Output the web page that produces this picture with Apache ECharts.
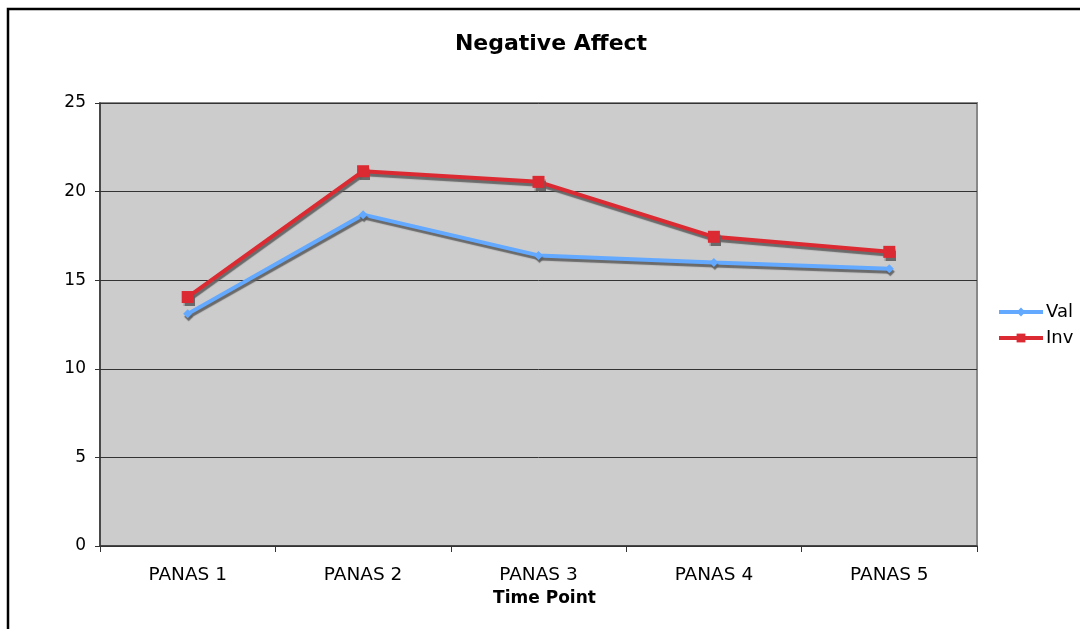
<!DOCTYPE html>
<html>
<head>
<meta charset="utf-8">
<script src="https://cdn.jsdelivr.net/npm/echarts@6/dist/echarts.min.js"></script>
<style>
html,body{margin:0;padding:0;background:#fff;}
#chart{width:1080px;height:629px;}
</style>
</head>
<body>
<div id="chart"></div>
<script>
const categories = ['PANAS 1', 'PANAS 2', 'PANAS 3', 'PANAS 4', 'PANAS 5'];
const valSeries = [13.1, 18.7, 16.4, 16.0, 15.65];
const invSeries = [14.05, 21.15, 20.55, 17.45, 16.6];
const seriesNames = ['Val', 'Inv'];
const yTicks = { min: 0, max: 25, interval: 5 };

const FONT = '"DejaVu Sans", Verdana, sans-serif';
const chart = echarts.init(document.getElementById('chart'), null, { renderer: 'canvas' });

const shadow = {
  shadowColor: 'rgba(95,95,95,0.9)',
  shadowBlur: 1,
  shadowOffsetX: 1,
  shadowOffsetY: 3
};

chart.setOption({
  animation: false,
  backgroundColor: '#ffffff',
  title: {
    text: 'Negative Affect',
    left: 546,
    textAlign: 'center',
    top: 28,
    textStyle: { fontFamily: FONT, fontWeight: 'bold', fontSize: 22, color: '#000' }
  },
  graphic: [{
    type: 'rect',
    shape: { x: 8, y: 9, width: 1090, height: 650 },
    style: { fill: 'none', stroke: '#000', lineWidth: 2.5 },
    silent: true
  }],
  legend: {
    orient: 'vertical',
    left: 992,
    top: 298,
    itemWidth: 44,
    itemHeight: 11,
    itemGap: 8,
    data: seriesNames,
    lineStyle: { width: 4 },
    textStyle: { fontFamily: FONT, fontSize: 18, color: '#000', padding: [0, 0, 0, -2] }
  },
  grid: {
    left: 100, right: 103, top: 103, bottom: 83,
    show: true,
    backgroundColor: '#cccccc',
    borderColor: '#888888',
    borderWidth: 2
  },
  xAxis: {
    type: 'category',
    data: categories,
    boundaryGap: true,
    name: 'Time Point',
    nameLocation: 'middle',
    nameGap: 42,
    nameTextStyle: { fontFamily: FONT, fontWeight: 'bold', fontSize: 17, color: '#000', padding: [0, 0, 0, 12] },
    axisLine: { show: true, lineStyle: { color: '#333', width: 1.5 } },
    axisTick: { show: true, length: 6, lineStyle: { color: '#333' } },
    axisLabel: { fontFamily: FONT, fontSize: 18.5, color: '#000', margin: 20 },
    splitLine: { show: false }
  },
  yAxis: {
    type: 'value',
    min: yTicks.min,
    max: yTicks.max,
    interval: yTicks.interval,
    axisLine: { show: true, lineStyle: { color: '#333', width: 1.5 } },
    axisTick: { show: true, length: 5, lineStyle: { color: '#333' } },
    axisLabel: { fontFamily: FONT, fontSize: 17, color: '#000', margin: 14 },
    splitLine: { show: true, lineStyle: { color: '#333', width: 1 } }
  },
  series: [
    {
      name: seriesNames[0],
      type: 'line',
      data: valSeries,
      symbol: 'diamond',
      symbolSize: 9,
      color: '#62a9ff',
      lineStyle: Object.assign({ width: 4, color: '#62a9ff' }, shadow),
      itemStyle: Object.assign({ color: '#62a9ff' }, shadow),
      z: 3
    },
    {
      name: seriesNames[1],
      type: 'line',
      data: invSeries,
      symbol: 'rect',
      symbolSize: 12,
      color: '#dc2a32',
      lineStyle: Object.assign({ width: 4, color: '#dc2a32' }, shadow),
      itemStyle: Object.assign({ color: '#dc2a32' }, shadow),
      z: 3
    }
  ]
});
</script>
</body>
</html>
